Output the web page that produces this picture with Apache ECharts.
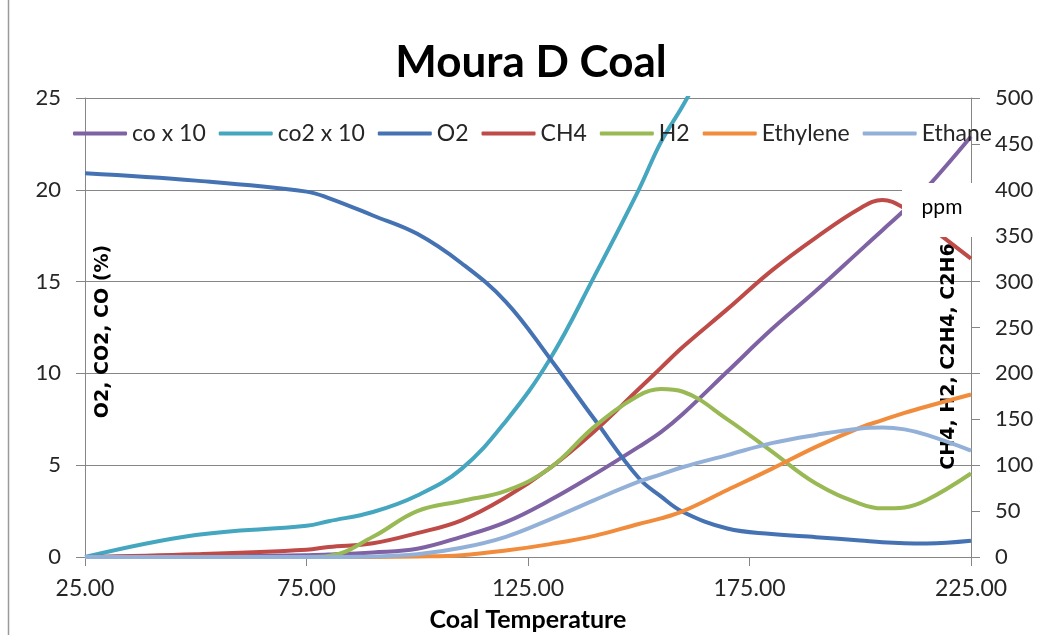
<!DOCTYPE html>
<html>
<head>
<meta charset="utf-8">
<script src="https://cdn.jsdelivr.net/npm/echarts@6/dist/echarts.min.js"></script>
<style>
  html, body { margin: 0; padding: 0; background: #fff; }
  #chart { width: 1043px; height: 635px; }
</style>
</head>
<body>
<div id="chart"></div>
<script>
// coal temperature sample points
const temps = [25, 50, 75, 80, 90, 100, 110, 120, 130, 140, 150, 155, 160, 170, 180, 190, 200, 205, 210, 215, 225];

// left axis (%)
const coX10  = [0, 0.02, 0.1, 0.13, 0.25, 0.45, 1.1, 1.9, 3.1, 4.5, 6.0, 6.8, 7.8, 10.1, 12.4, 14.5, 16.7, 17.8, 18.9, 20.1, 22.9];
const co2X10 = [0, 1.2, 1.7, 1.95, 2.45, 3.35, 4.8, 7.4, 10.8, 15.3, 20.0, 22.6, 24.6, 29.0, null, null, null, null, null, null, null];
const o2     = [20.9, 20.5, 19.9, 19.55, 18.6, 17.6, 16.0, 13.9, 10.8, 7.5, 4.3, 3.3, 2.45, 1.55, 1.25, 1.08, 0.9, 0.8, 0.75, 0.74, 0.88];

// right axis (ppm)
const ch4      = [0, 3, 8, 11, 15, 26, 40, 65, 97, 137, 183, 206, 229, 270, 312, 348, 380, 389, 380, 362, 325];
const h2       = [0, 0, 0, 1, 22, 50, 61, 72, 97, 142, 176, 183, 180, 150, 115, 80, 58, 53, 54, 62, 91];
const ethylene = [0, 0, 0, 0, 0, 0.5, 2, 7, 14, 23, 36, 42, 50, 73, 96, 120, 141, 149, 157, 164, 177];
const ethane   = [0, 0, 0, 0, 0.5, 3, 10, 22, 41, 62, 82, 90, 98, 111, 124, 133, 140, 141, 139, 133, 116];

const xTicks = [25, 75, 125, 175, 225];

const FONT = 'Lato, "Open Sans", sans-serif';
const WIDE = '"DejaVu Sans", Verdana, sans-serif';
const GRAY = '#868686';
const TXT = '#262626';

const COLORS = {
  co:       '#7F62A3',
  co2:      '#45A6BF',
  o2:       '#4572B3',
  ch4:      '#BE4B48',
  h2:       '#98B954',
  ethylene: '#F08C3C',
  ethane:   '#93B1D8',
};

function line(name, values, axis, color) {
  return {
    name: name,
    type: 'line',
    yAxisIndex: axis,
    data: temps.map((t, i) => [t, values[i]]),
    smooth: 0.4,
    symbol: 'none',
    lineStyle: { width: 4, color: color },
    itemStyle: { color: color },
  };
}

const chart = echarts.init(document.getElementById('chart'));

chart.setOption({
  animation: false,
  textStyle: { fontFamily: FONT },
  title: {
    text: 'Moura D Coal',
    left: 526,
    top: 36,
    textAlign: 'center',
    textStyle: { fontSize: 44, fontWeight: 'bold', color: '#000', fontFamily: FONT },
  },
  legend: {
    left: 68,
    top: 117,
    icon: 'roundRect',
    itemWidth: 54,
    itemHeight: 4,
    itemGap: 13,
    textStyle: { fontSize: 23, color: TXT, fontFamily: FONT },
    data: ['co x 10', 'co2 x 10', 'O2', 'CH4', 'H2', 'Ethylene', 'Ethane'],
  },
  grid: { left: 85, right: 72, top: 98, bottom: 78, outerBoundsMode: 'none' },
  xAxis: {
    type: 'value',
    min: 25,
    max: 225,
    name: 'Coal Temperature',
    nameLocation: 'middle',
    nameGap: 63,
    nameMoveOverlap: false,
    nameTextStyle: { fontSize: 25, fontWeight: 'bold', color: '#000', verticalAlign: 'middle', fontFamily: FONT },
    axisLine: { show: true, lineStyle: { color: GRAY } },
    axisTick: { show: true, customValues: xTicks, length: 9, lineStyle: { color: GRAY } },
    axisLabel: { customValues: xTicks, formatter: v => v.toFixed(2), fontSize: 23, color: TXT, margin: 20 },
    splitLine: { show: false },
  },
  yAxis: [
    {
      type: 'value',
      position: 'left',
      min: 0,
      max: 25,
      interval: 5,
      name: 'O2, CO2, CO (%)',
      nameLocation: 'middle',
      nameRotate: 90,
      nameGap: -18,
      nameMoveOverlap: false,
      nameTextStyle: { fontSize: 19, fontWeight: 'bold', color: '#000', align: 'center', verticalAlign: 'middle', padding: [0, 8, 0, 0], fontFamily: WIDE },
      axisLine: { show: true, lineStyle: { color: GRAY } },
      axisTick: { show: true, length: 9, lineStyle: { color: GRAY } },
      axisLabel: { fontSize: 22, color: TXT, margin: 24 },
      splitLine: { show: true, lineStyle: { color: GRAY, width: 1 } },
    },
    {
      type: 'value',
      position: 'right',
      min: 0,
      max: 500,
      interval: 50,
      name: 'CH4, H2, C2H4, C2H6',
      nameLocation: 'middle',
      nameRotate: 90,
      nameGap: -22,
      nameMoveOverlap: false,
      nameTextStyle: { fontSize: 19, fontWeight: 'bold', color: '#000', align: 'center', verticalAlign: 'middle', padding: [0, 58, 0, 0], fontFamily: WIDE },
      axisLine: { show: true, lineStyle: { color: GRAY } },
      axisTick: { show: true, length: 9, lineStyle: { color: GRAY } },
      axisLabel: { fontSize: 22, color: TXT, margin: 24 },
      splitLine: { show: false },
    },
  ],
  graphic: [
    {
      type: 'line',
      shape: { x1: 8.5, y1: 0, x2: 8.5, y2: 635 },
      style: { stroke: '#9a9a9a', lineWidth: 1.5 },
    },
    {
      type: 'rect',
      z: 100,
      shape: { x: 902, y: 183, width: 82, height: 54 },
      style: { fill: '#fff' },
    },
    {
      type: 'text',
      z: 101,
      x: 942,
      y: 207,
      style: { text: 'ppm', fontSize: 21, fill: '#000', align: 'center', verticalAlign: 'middle', fontFamily: FONT },
    },
  ],
  series: [
    line('co x 10', coX10, 0, COLORS.co),
    line('co2 x 10', co2X10, 0, COLORS.co2),
    line('O2', o2, 0, COLORS.o2),
    line('CH4', ch4, 1, COLORS.ch4),
    line('H2', h2, 1, COLORS.h2),
    line('Ethylene', ethylene, 1, COLORS.ethylene),
    line('Ethane', ethane, 1, COLORS.ethane),
  ],
});
</script>
</body>
</html>
